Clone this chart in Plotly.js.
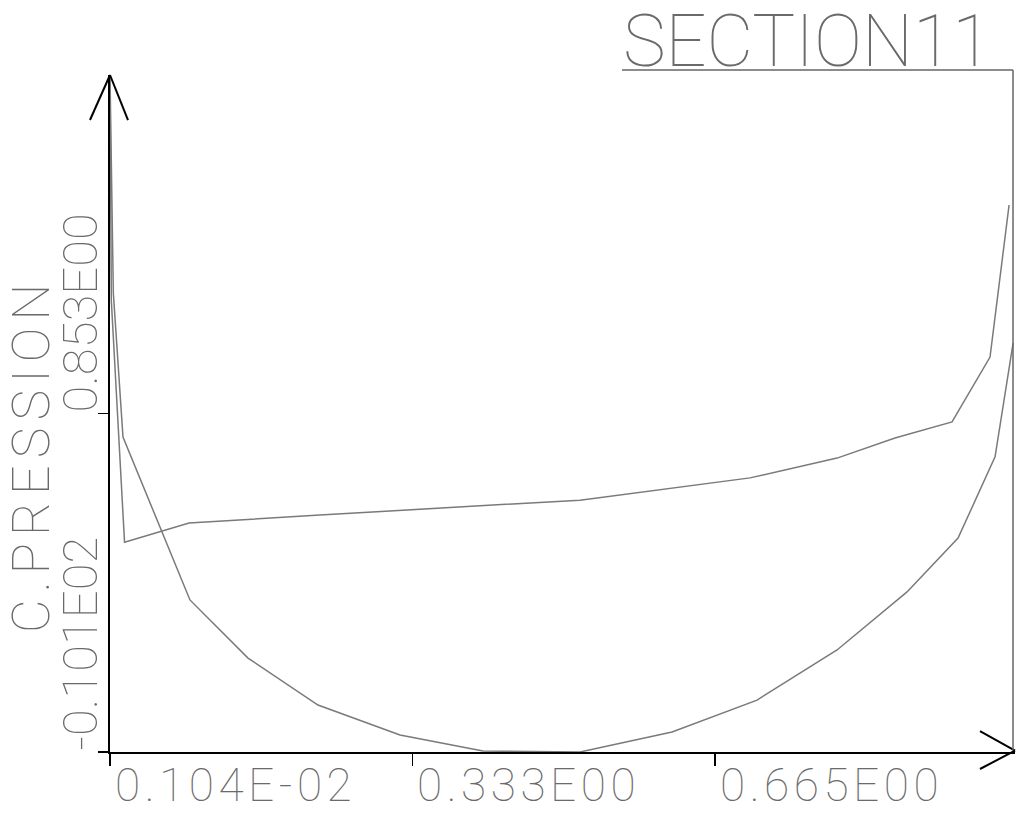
<!DOCTYPE html>
<html><head><meta charset="utf-8">
<script src="https://cdn.plot.ly/plotly-3.0.1.min.js"></script>
<style>
html,body{margin:0;padding:0;background:#fff;}
#chart{width:1017px;height:813px;}
#chart g.annotation[data-index="1"] text.annotation-text,
#chart g.annotation[data-index="2"] text.annotation-text,
#chart g.annotation[data-index="3"] text.annotation-text{letter-spacing:4.5px;}
#chart g.annotation[data-index="6"] text.annotation-text{letter-spacing:7px;}
</style>
</head><body><div id="chart"></div>
<script>
const chartTitle = 'SECTION11';
const yAxisLabel = 'C.PRESSION';
const xTickVals = [0.00104, 0.333, 0.665];
const xTickText = ['0.104E-02', '0.333E00', '0.665E00'];
const yTickVals = [-10.1, 0.853];
const yTickText = ['-0.101E02', '0.853E00'];

const curveAX = [0.00104, 0.0025, 0.0170, 0.0878, 0.2315, 0.3742, 0.5169, 0.7035, 0.7990, 0.8626, 0.9252, 0.9669, 0.9878];
const curveAY = [11.806, 4.50, -3.31, -2.69, -2.43, -2.20, -1.95, -1.23, -0.59, 0.06, 0.58, 2.68, 7.60];

const curveBX = [0.00104, 0.0047, 0.0153, 0.0888, 0.1525, 0.2293, 0.3193, 0.4104, 0.5169, 0.6179, 0.7112, 0.7990, 0.8758, 0.9318, 0.9724, 0.9922];
const curveBY = [11.806, 4.75, 0.09, -5.18, -7.06, -8.58, -9.55, -10.07, -10.10, -9.45, -8.42, -6.80, -4.92, -3.18, -0.55, 3.13];

const lineStyle = {color: '#7a7a7a', width: 1.5};
const traces = [
  {x: curveAX, y: curveAY, type: 'scatter', mode: 'lines', line: lineStyle, hoverinfo: 'skip'},
  {x: curveBX, y: curveBY, type: 'scatter', mode: 'lines', line: lineStyle, hoverinfo: 'skip'}
];

function tf(size) {
  return {family: 'Roboto, "Liberation Sans", sans-serif', weight: 100, color: '#6a6a6a', size: size};
}

const annotations = [];
annotations.push({text: chartTitle, xref: 'paper', yref: 'paper', x: 0.5657, y: 1.0495,
  xanchor: 'left', yanchor: 'middle', showarrow: false, font: tf(72), borderpad: 0});
xTickVals.forEach((v, i) => annotations.push({text: xTickText[i], xref: 'x', yref: 'paper', x: v, y: -0.0488,
  xanchor: 'left', yanchor: 'middle', align: 'left', xshift: 4, showarrow: false, font: tf(46), borderpad: 0}));
yTickVals.forEach((v, i) => annotations.push({text: yTickText[i], xref: 'paper', yref: 'y', x: -0.0337, y: v,
  xanchor: 'center', yanchor: 'bottom', textangle: -90, showarrow: false, font: tf(49), borderpad: 0}));
annotations.push({text: yAxisLabel, xref: 'paper', yref: 'paper', x: -0.0873, y: 0.4387,
  xanchor: 'center', yanchor: 'middle', textangle: -90, showarrow: false, font: tf(52), borderpad: 0});

const axisLine = {color: '#000000', width: 2};
const thinLine = {color: '#666666', width: 1.5};
const shapes = [
  {type: 'line', xref: 'paper', yref: 'paper', x0: -0.0221, y0: 0.9335, x1: 0, y1: 1, line: axisLine},
  {type: 'line', xref: 'paper', yref: 'paper', x0: 0.0199, y0: 0.9335, x1: 0, y1: 1, line: axisLine},
  {type: 'line', xref: 'paper', yref: 'paper', x0: 0.9613, y0: 0.031, x1: 1, y1: 0.002, line: axisLine},
  {type: 'line', xref: 'paper', yref: 'paper', x0: 0.9613, y0: -0.0251, x1: 1, y1: 0.002, line: axisLine},
  {type: 'line', xref: 'paper', yref: 'paper', x0: 0.9978, y0: 0.003, x1: 0.9978, y1: 1.0074, line: thinLine},
  {type: 'line', xref: 'paper', yref: 'paper', x0: 0.5657, y0: 1.0074, x1: 0.9978, y1: 1.0074, line: thinLine}
];

const layout = {
  width: 1017, height: 813,
  margin: {l: 110, r: 2, t: 75, b: 61},
  paper_bgcolor: '#ffffff', plot_bgcolor: '#ffffff',
  showlegend: false,
  xaxis: {range: [0.00104, 0.9943], tickmode: 'array', tickvals: xTickVals, ticks: 'outside', ticklen: 12,
    tickwidth: 1.5, tickcolor: '#000', showticklabels: false, showline: true, linecolor: '#000', linewidth: 2,
    showgrid: false, zeroline: false, fixedrange: true},
  yaxis: {range: [-10.1, 11.806], tickmode: 'array', tickvals: yTickVals, ticks: 'outside', ticklen: 10,
    tickwidth: 1.5, tickcolor: '#000', showticklabels: false, showline: true, linecolor: '#000', linewidth: 2,
    showgrid: false, zeroline: false, fixedrange: true},
  annotations: annotations,
  shapes: shapes
};

Plotly.newPlot('chart', traces, layout, {displayModeBar: false, staticPlot: true});
</script>
</body></html>
